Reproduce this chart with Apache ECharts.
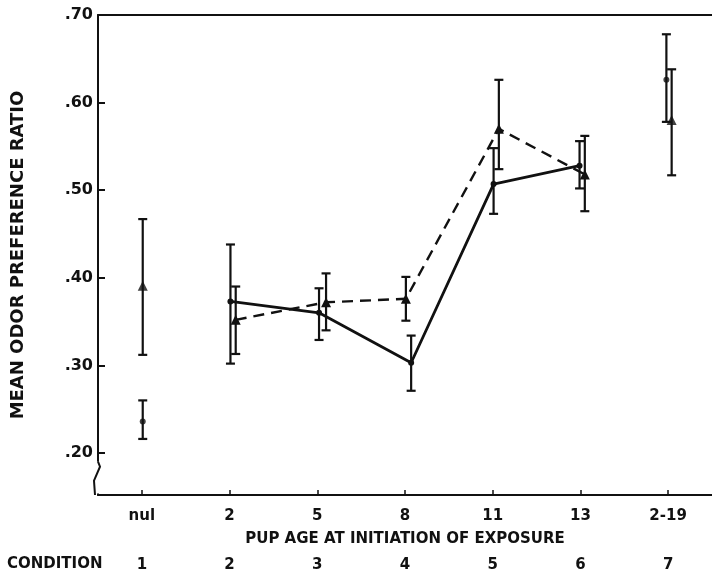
<!DOCTYPE html>
<html><head><meta charset="utf-8">
<script src="https://cdn.jsdelivr.net/npm/echarts@6/dist/echarts.min.js"></script>
<style>html,body{margin:0;padding:0;background:#fff}#c{width:712px;height:576px}</style>
</head><body><div id="c"></div>
<script>
// ---- data ----
const ageLabels = ['nul', '2', '5', '8', '11', '13', '2-19'];
const conditionLabels = ['1', '2', '3', '4', '5', '6', '7'];
const yTicks = [0.2, 0.3, 0.4, 0.5, 0.6, 0.7];
// circle series (solid line)
const circleMean = [0.236, 0.373, 0.360, 0.303, 0.507, 0.528, 0.626];
const circleLow  = [0.216, 0.302, 0.329, 0.271, 0.473, 0.502, 0.578];
const circleHigh = [0.260, 0.438, 0.388, 0.334, 0.548, 0.556, 0.678];
// triangle series (dashed line)
const triMean = [0.391, 0.352, 0.372, 0.376, 0.570, 0.518, 0.580];
const triLow  = [0.312, 0.313, 0.340, 0.351, 0.524, 0.476, 0.517];
const triHigh = [0.467, 0.390, 0.405, 0.401, 0.626, 0.562, 0.638];
// small horizontal displacement of the points in the original figure (category units)
const circleShift = [0.01, 0.01, 0.02, 0.07, 0.01, -0.01, -0.02];
const triShift    = [0.01, 0.07, 0.10, 0.01, 0.07, 0.05, 0.04];

const FONT = 'DejaVu Sans';
const BLACK = '#111';
const idx = ageLabels.map((_, i) => i);

function pts(mean, shift, from, to) {
  const out = [];
  for (let i = from; i <= to; i++) out.push([i + shift[i], mean[i]]);
  return out;
}
function bars(low, high, shift) {
  return low.map((l, i) => [i + shift[i], l, high[i]]);
}
function isolated(mean, shift) {
  return [[0 + shift[0], mean[0]], [6 + shift[6], mean[6]]];
}

function renderBar(params, api) {
  const x = api.value(0);
  const top = api.coord([x, api.value(2)]);
  const bot = api.coord([x, api.value(1)]);
  const w = 4.5;
  const st = { stroke: BLACK, lineWidth: 2.2 };
  return {
    type: 'group',
    children: [
      { type: 'line', shape: { x1: top[0], y1: top[1], x2: bot[0], y2: bot[1] }, style: st },
      { type: 'line', shape: { x1: top[0] - w, y1: top[1], x2: top[0] + w, y2: top[1] }, style: st },
      { type: 'line', shape: { x1: bot[0] - w, y1: bot[1], x2: bot[0] + w, y2: bot[1] }, style: st }
    ]
  };
}

const chart = echarts.init(document.getElementById('c'), null, { renderer: 'canvas' });
const xBase = { type: 'value', min: -0.5, max: 6.5, gridIndex: 0, splitLine: { show: false } };
const txt = (size) => ({ color: BLACK, fontFamily: FONT, fontSize: size, fontWeight: 'bold' });
const option = {
  backgroundColor: '#fff',
  animation: false,
  grid: { left: 98, top: 15, width: 620, height: 480 },
  xAxis: [
    Object.assign({}, xBase, {
      position: 'bottom',
      axisLine: { show: true, onZero: false, lineStyle: { color: BLACK, width: 2 } },
      axisTick: { show: true, inside: true, length: 5, customValues: idx, lineStyle: { color: BLACK, width: 1.5 } },
      axisLabel: Object.assign({ customValues: idx, formatter: v => ageLabels[Math.round(v)], margin: 14 }, txt(15)),
      name: 'PUP AGE AT INITIATION OF EXPOSURE', nameLocation: 'middle', nameGap: 37,
      nameTextStyle: txt(15)
    }),
    Object.assign({}, xBase, {
      position: 'bottom', offset: 50,
      axisLine: { show: false, onZero: false }, axisTick: { show: false },
      axisLabel: Object.assign({ customValues: idx, formatter: v => conditionLabels[Math.round(v)], margin: 13 }, txt(15))
    }),
    Object.assign({}, xBase, {
      position: 'top',
      axisLine: { show: true, onZero: false, lineStyle: { color: BLACK, width: 2 } },
      axisTick: { show: false }, axisLabel: { show: false }
    })
  ],
  yAxis: {
    type: 'value', min: 0.152, max: 0.70,
    splitLine: { show: false },
    axisLine: { show: true, onZero: false, lineStyle: { color: BLACK, width: 2 } },
    axisTick: { show: true, inside: true, length: 7, customValues: yTicks, lineStyle: { color: BLACK, width: 2 } },
    axisLabel: Object.assign({ customValues: yTicks, formatter: v => v.toFixed(2).replace(/^0/, ''), margin: 5 }, txt(16)),
    name: 'MEAN ODOR PREFERENCE RATIO', nameLocation: 'middle', nameGap: 71,
    nameTextStyle: txt(18)
  },
  series: [
    { type: 'custom', name: 'circleErr', xAxisIndex: 0, renderItem: renderBar, encode: { x: 0, y: [1, 2] }, data: bars(circleLow, circleHigh, circleShift), z: 2 },
    { type: 'custom', name: 'triErr', xAxisIndex: 0, renderItem: renderBar, encode: { x: 0, y: [1, 2] }, data: bars(triLow, triHigh, triShift), z: 2 },
    { type: 'line', name: 'circle', xAxisIndex: 0, data: pts(circleMean, circleShift, 1, 5), symbol: 'circle', symbolSize: 6,
      itemStyle: { color: BLACK }, lineStyle: { color: BLACK, width: 2.8 }, z: 3 },
    { type: 'line', name: 'triangle', xAxisIndex: 0, data: pts(triMean, triShift, 1, 5), symbol: 'triangle', symbolSize: 10,
      itemStyle: { color: BLACK }, lineStyle: { color: BLACK, width: 2.4, type: [11, 7] }, z: 3 },
    { type: 'scatter', name: 'circleIso', xAxisIndex: 0, data: isolated(circleMean, circleShift), symbol: 'circle', symbolSize: 6, itemStyle: { color: BLACK }, z: 4 },
    { type: 'scatter', name: 'triIso', xAxisIndex: 0, data: isolated(triMean, triShift), symbol: 'triangle', symbolSize: 10, itemStyle: { color: BLACK }, z: 4 }
  ]
};
chart.setOption(option);

// axis break on the y axis, placed from the axis scale
const pA = chart.convertToPixel({ gridIndex: 0 }, [-0.5, 0.19]);
const pB = chart.convertToPixel({ gridIndex: 0 }, [-0.5, 0.152]);
chart.setOption({
  graphic: [
    { type: 'text', left: 7, top: 557, style: { text: 'CONDITION', fill: BLACK, font: 'bold 15px "' + FONT + '"' } },
    { type: 'rect', z: 100, shape: { x: pA[0] - 4, y: pA[1], width: 8, height: pB[1] - pA[1] - 1.5 }, style: { fill: '#fff' } },
    { type: 'polyline', z: 101, shape: { points: [
        [pA[0], pA[1]], [pA[0] + 2, pA[1] + 5], [pA[0] - 4, pA[1] + 19], [pA[0] - 3, pB[1]]
      ] }, style: { stroke: BLACK, lineWidth: 2, fill: null } }
  ]
});
</script>
</body></html>
